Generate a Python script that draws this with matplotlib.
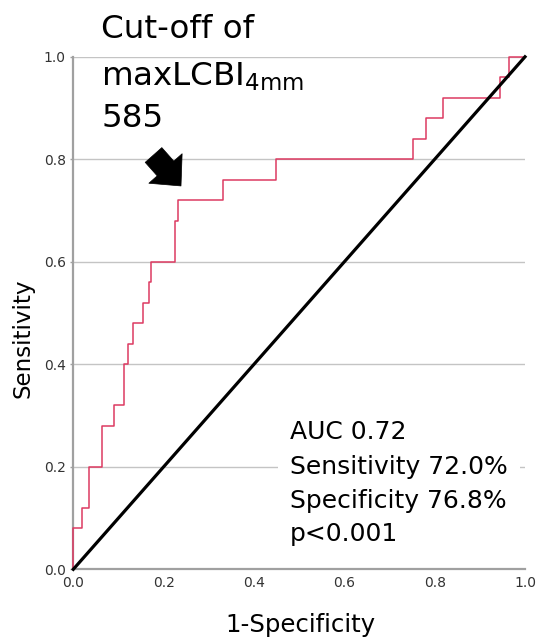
import matplotlib
matplotlib.use("Agg")
import matplotlib.pyplot as plt

plt.rcParams["mathtext.default"] = "regular"
plt.rcParams["font.family"] = ["DejaVu Sans"]

# ROC curve vertices (1-Specificity, Sensitivity), drawn as steps
fpr = [0.0, 0.0, 0.0186, 0.0354, 0.0629, 0.0908, 0.1122, 0.1204, 0.1315,
       0.155, 0.1676, 0.172, 0.2251, 0.2325, 0.3307, 0.4481, 0.7514,
       0.7808, 0.819, 0.9445, 0.965, 1.0]
tpr = [0.0, 0.08, 0.12, 0.20, 0.28, 0.32, 0.40, 0.44, 0.48,
       0.52, 0.56, 0.60, 0.68, 0.72, 0.76, 0.80, 0.84,
       0.88, 0.92, 0.96, 1.0, 1.0]
ref_line = [0.0, 1.0]
ticks = [0.0, 0.2, 0.4, 0.6, 0.8, 1.0]
tick_labels = ["0.0", "0.2", "0.4", "0.6", "0.8", "1.0"]
cutoff_point = (0.2384, 0.748)
arrow_tail = (0.1776, 0.8084)
title_lines = ["Cut-off of", "maxLCBI$_{4mm}$", "585"]
stats_lines = ["AUC 0.72", "Sensitivity 72.0%", "Specificity 76.8%", "p<0.001"]

W, H = 536, 640
fig = plt.figure(figsize=(W / 100, H / 100), dpi=100)
x0, x1, y0, y1 = 73.3, 525.0, 569.3, 56.8
ax = fig.add_axes([x0 / W, 1 - y0 / H, (x1 - x0) / W, (y0 - y1) / H])
ax.set_xlim(0, 1)
ax.set_ylim(0, 1)

ax.plot(fpr, tpr, drawstyle="steps-post", color="#DD3A62", lw=1.1,
        zorder=4, clip_on=False)
ax.plot(ref_line, ref_line, color="black", lw=2.3, zorder=5, clip_on=False)

ax.set_xticks(ticks)
ax.set_yticks(ticks)
ax.set_xticklabels(tick_labels)
ax.set_yticklabels(tick_labels)
ax.tick_params(axis="x", length=0, pad=5, labelsize=10, labelcolor="#333333")
ax.tick_params(axis="y", length=2.5, width=1, color="#a0a0a0", pad=3,
               labelsize=10, labelcolor="#333333")
ax.yaxis.grid(True, color="#c4c4c4", lw=1.0)
ax.set_axisbelow(True)
for s in ["top", "right"]:
    ax.spines[s].set_visible(False)
for s in ["left", "bottom"]:
    ax.spines[s].set_color("#a0a0a0")
    ax.spines[s].set_linewidth(1.6)

ax.annotate("", xy=cutoff_point, xytext=arrow_tail,
            arrowprops=dict(arrowstyle="simple,head_width=2.0,head_length=1.05,tail_width=1.0",
                            fc="black", ec="black", lw=0.5, mutation_scale=16,
                            shrinkA=0, shrinkB=0), zorder=6)


def ftext(xpx, ypx, s, **kw):
    return fig.text(xpx / W, 1 - ypx / H, s, **kw)


# title block
for line, base in zip(title_lines, [38, 86, 127]):
    ftext(101, base, line, fontsize=23.4, va="baseline", ha="left", color="black")

# stats block (Sensitivity line first so its white box sits underneath)
bases = [439, 474, 508, 541]
ftext(290, bases[1], stats_lines[1], fontsize=18, va="baseline", ha="left",
      color="black", zorder=5,
      bbox=dict(boxstyle="square,pad=0.5", fc="white", ec="none"))
for i in [0, 2, 3]:
    ftext(290, bases[i], stats_lines[i], fontsize=18, va="baseline", ha="left",
          color="black", zorder=6)

# axis labels
ftext(300, 632, "1-Specificity", fontsize=17.6, ha="center", va="baseline")
ftext(23, 338, "Sensitivity", fontsize=16.6, ha="center", va="center", rotation=90)

fig.savefig("out.png", dpi=100)
